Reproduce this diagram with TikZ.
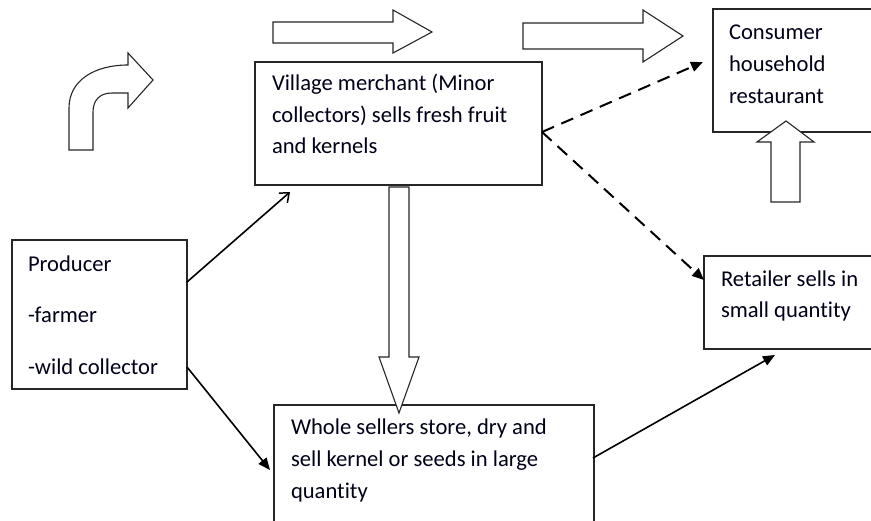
\documentclass[tikz,border=0pt]{standalone}
\usepackage{fontspec}
\setmainfont{Carlito}[Ligatures={NoCommon}]
\usetikzlibrary{arrows.meta,calc}
\begin{document}
\begin{tikzpicture}[x=1pt,y=-1pt,
  box/.style={draw=black!85,line width=1.2pt,fill=none,inner sep=0pt,outer sep=0pt,anchor=north west},
  txt/.style={anchor=base west,inner sep=0pt,outer sep=0pt,font=\fontsize{22.6}{26}\selectfont,text=black!90!blue},
  blockarrow/.style={draw=black!85,line width=1.1pt,fill=white,line join=miter},
  solidarrow/.style={draw=black,line width=1.6pt},
  dasharrow/.style={draw=black,line width=2pt,dash pattern=on 13pt off 8pt},
  headfill/.style={-{Triangle[length=12pt,width=10pt]}},
  headopen/.style={-{Straight Barb[length=8pt,width=13pt,line width=1.5pt]}}
]
\useasboundingbox (0,0) rectangle (871,521);
\clip (0,0) rectangle (871,521);

% boxes
\node[box,minimum width=175pt,minimum height=149pt] (prod) at (12,240) {};
\node[box,minimum width=287pt,minimum height=123pt] (vil) at (255,62) {};
\node[box,minimum width=170pt,minimum height=123pt] (cons) at (713,9) {};
\node[box,minimum width=180pt,minimum height=93pt] (ret) at (704,256) {};
\node[box,minimum width=320pt,minimum height=130pt] (whole) at (274,405) {};

% texts
\node[txt] (p1) at (28,272) {Producer};
\node[txt] (p2) at (28,323) {-farmer};
\node[txt] (p3) at (28,375) {-wild collector};

\node[txt] (v1) at (272,91) {Village merchant (Minor};
\node[txt] (v2) at (272,123) {collectors) sells fresh fruit};
\node[txt] (v3) at (272,154) {and kernels};

\node[txt] (c1) at (729,40) {Consumer};
\node[txt] (c2) at (729,72) {household};
\node[txt] (c3) at (729,104) {restaurant};

\node[txt] (r1) at (721,287) {Retailer sells in};
\node[txt] (r2) at (721,318) {small quantity};

\node[txt] (w1) at (291,435) {Whole sellers store, dry and};
\node[txt] (w2) at (291,467) {sell kernel or seeds in large};
\node[txt] (w3) at (291,498) {quantity};

% block arrows
\draw[blockarrow] (69,150) -- (69,108) .. controls (69,80) and (95,65) .. (128,65)
  -- (128,53) -- (153,80) -- (128,108) -- (128,93) -- (112,93)
  .. controls (100,93) and (93,100) .. (93,112) -- (93,150) -- cycle;
\draw[blockarrow] (273,22) -- (393,22) -- (393,10) -- (432,32) -- (393,53) -- (393,43) -- (273,43) -- cycle;
\draw[blockarrow] (523,23) -- (643,23) -- (643,10) -- (683,36) -- (643,62) -- (643,49) -- (523,49) -- cycle;
\draw[blockarrow] (389,187) -- (409,187) -- (409,357) -- (419,357) -- (399,413) -- (379,357) -- (389,357) -- cycle;
\draw[blockarrow] (771,202) -- (771,142) -- (757,142) -- (786,121) -- (814,142) -- (800,142) -- (800,202) -- cycle;

% connectors
\coordinate (pa) at ($(prod.north east)+(0,42)$);
\coordinate (pb) at ($(prod.north east)+(0,127)$);
\coordinate (va) at ($(vil.south west)+(35,7)$);
\coordinate (vb) at ($(vil.north east)+(0,70)$);
\coordinate (wa) at ($(whole.west)+(-4,0)$);
\coordinate (wb) at ($(whole.north east)+(-1,53)$);
\coordinate (ra) at ($(ret.south west)+(71,6)$);
\coordinate (ca) at ($(cons.north west)+(-10,53)$);
\coordinate (rb) at ($(ret.north west)+(0,24)$);

\draw[solidarrow,headopen] (pa) -- (va);
\draw[solidarrow,headfill] (pb) -- (270,470);
\draw[solidarrow,headfill] (wb) -- (ra);
\draw[dasharrow,headfill] (vb) -- (ca);
\draw[dasharrow,headfill] (vb) -- (rb);
\end{tikzpicture}
\end{document}
